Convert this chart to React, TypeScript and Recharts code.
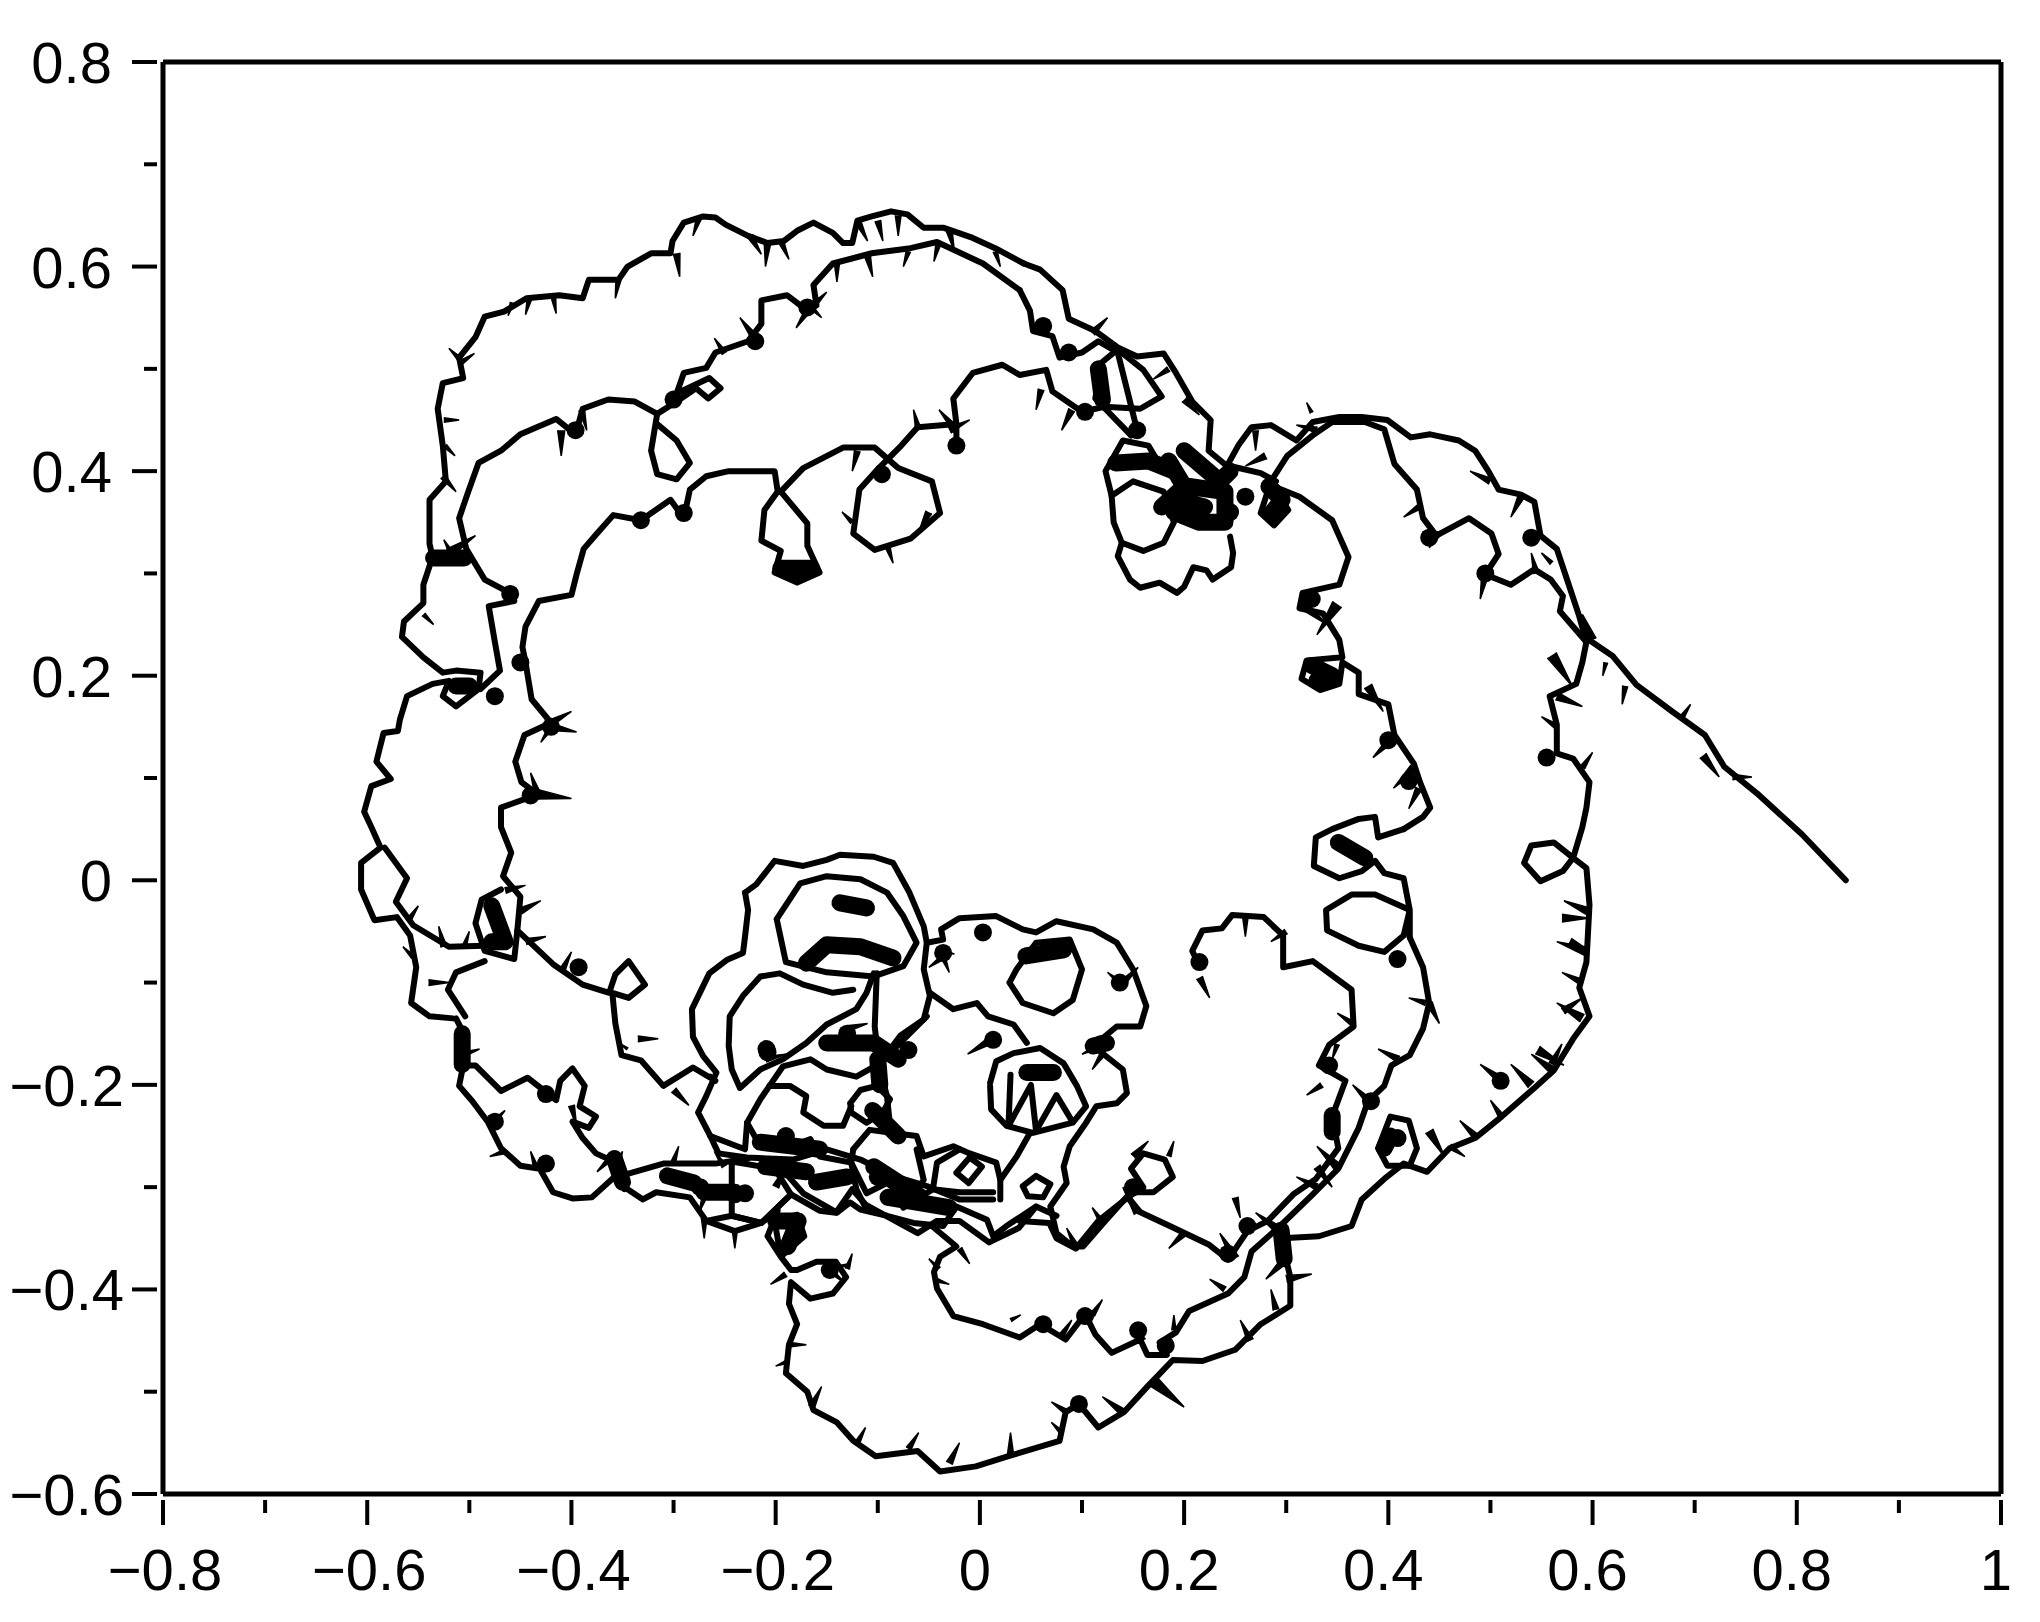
import { ScatterChart, Scatter, XAxis, YAxis, ReferenceLine } from "recharts";

type Pt = [number, number];

const xTicks = [-0.8, -0.7, -0.6, -0.5, -0.4, -0.3, -0.2, -0.1, 0, 0.1, 0.2, 0.3, 0.4, 0.5, 0.6, 0.7, 0.8, 0.9, 1];
const yTicks = [-0.6, -0.5, -0.4, -0.3, -0.2, -0.1, 0, 0.1, 0.2, 0.3, 0.4, 0.5, 0.6, 0.7, 0.8];

// trajectory, strand by strand
const leadIn: Pt[] = [[0.848, 0], [0.805, 0.045], [0.761, 0.085], [0.729, 0.111], [0.71, 0.142], [0.678, 0.165], [0.643, 0.191], [0.62, 0.219], [0.592, 0.238]];

const outerRight: Pt[] = [[0.594, 0.233], [0.587, 0.258], [0.575, 0.294], [0.565, 0.324], [0.549, 0.337], [0.543, 0.37], [0.53, 0.377], [0.508, 0.382], [0.498, 0.4], [0.485, 0.42], [0.469, 0.43], [0.441, 0.436], [0.422, 0.433], [0.399, 0.45], [0.374, 0.453], [0.352, 0.453], [0.326, 0.448], [0.31, 0.43], [0.285, 0.445], [0.266, 0.443], [0.253, 0.425], [0.242, 0.405], [0.224, 0.42], [0.226, 0.45], [0.208, 0.468], [0.192, 0.496], [0.18, 0.515], [0.154, 0.512], [0.135, 0.521], [0.113, 0.537], [0.087, 0.549], [0.081, 0.577], [0.059, 0.597], [0.043, 0.603]];

const outerTop: Pt[] = [[0.043, 0.603], [0.015, 0.618], [-0.007, 0.628], [-0.036, 0.638], [-0.055, 0.638], [-0.071, 0.651], [-0.087, 0.654], [-0.106, 0.649], [-0.12, 0.645], [-0.125, 0.623], [-0.134, 0.623], [-0.144, 0.633], [-0.163, 0.643], [-0.179, 0.635], [-0.192, 0.625], [-0.208, 0.623], [-0.227, 0.63], [-0.249, 0.641], [-0.259, 0.648], [-0.271, 0.649], [-0.29, 0.643], [-0.301, 0.625], [-0.303, 0.613], [-0.322, 0.613], [-0.345, 0.6], [-0.354, 0.587], [-0.383, 0.587], [-0.389, 0.569], [-0.412, 0.572], [-0.444, 0.569], [-0.466, 0.556], [-0.485, 0.551], [-0.494, 0.531], [-0.51, 0.511], [-0.506, 0.491], [-0.526, 0.486], [-0.531, 0.461], [-0.526, 0.425], [-0.523, 0.39], [-0.539, 0.372], [-0.539, 0.329], [-0.536, 0.316]];

const outerLeft: Pt[] = [[-0.536, 0.316], [-0.545, 0.289], [-0.545, 0.271], [-0.564, 0.253], [-0.566, 0.238], [-0.545, 0.218], [-0.526, 0.203], [-0.513, 0.205], [-0.489, 0.203], [-0.491, 0.187], [-0.513, 0.17], [-0.526, 0.18], [-0.52, 0.195], [-0.536, 0.192], [-0.561, 0.18], [-0.568, 0.157], [-0.57, 0.146], [-0.584, 0.144], [-0.591, 0.116], [-0.577, 0.099], [-0.596, 0.092], [-0.603, 0.067], [-0.596, 0.052], [-0.587, 0.032], [-0.606, 0.017], [-0.606, -0.009], [-0.593, -0.039], [-0.571, -0.036], [-0.558, -0.054], [-0.552, -0.085], [-0.557, -0.12], [-0.539, -0.133], [-0.516, -0.135]];

const outerBottom: Pt[] = [[-0.513, -0.135], [-0.503, -0.155], [-0.506, -0.181], [-0.51, -0.201], [-0.497, -0.216], [-0.482, -0.236], [-0.469, -0.262], [-0.45, -0.279], [-0.431, -0.282], [-0.418, -0.305], [-0.399, -0.311], [-0.38, -0.31], [-0.358, -0.29], [-0.345, -0.302], [-0.33, -0.312], [-0.317, -0.305], [-0.284, -0.31], [-0.268, -0.333], [-0.24, -0.343], [-0.214, -0.335], [-0.198, -0.323], [-0.208, -0.348], [-0.195, -0.368], [-0.172, -0.348], [-0.179, -0.327], [-0.201, -0.333], [-0.195, -0.368], [-0.185, -0.381], [-0.179, -0.381], [-0.16, -0.373], [-0.141, -0.373], [-0.131, -0.388], [-0.144, -0.404], [-0.166, -0.409], [-0.185, -0.393], [-0.187, -0.414], [-0.179, -0.434], [-0.187, -0.454], [-0.19, -0.482], [-0.169, -0.5], [-0.163, -0.518], [-0.14, -0.53], [-0.124, -0.548], [-0.102, -0.563], [-0.061, -0.558], [-0.039, -0.578], [-0.004, -0.573], [0.028, -0.563], [0.078, -0.548], [0.084, -0.52], [0.097, -0.512], [0.116, -0.535], [0.141, -0.52], [0.164, -0.495], [0.189, -0.469], [0.218, -0.47], [0.25, -0.459], [0.275, -0.434], [0.304, -0.416], [0.304, -0.388], [0.298, -0.363], [0.296, -0.345]];

const outerReturn: Pt[] = [[0.296, -0.35], [0.332, -0.348], [0.364, -0.338], [0.374, -0.312], [0.396, -0.292], [0.415, -0.277], [0.438, -0.285], [0.46, -0.262], [0.485, -0.252], [0.511, -0.231], [0.543, -0.203], [0.562, -0.186], [0.581, -0.155], [0.597, -0.133], [0.587, -0.105], [0.594, -0.08], [0.597, -0.024], [0.594, 0.012], [0.581, 0.022], [0.571, 0.009], [0.549, -0.001], [0.533, 0.017], [0.54, 0.034], [0.562, 0.037], [0.581, 0.022], [0.59, 0.052], [0.594, 0.071], [0.597, 0.096], [0.581, 0.119], [0.565, 0.124], [0.565, 0.152], [0.558, 0.18], [0.584, 0.192], [0.59, 0.213], [0.594, 0.233]];

const secondRight: Pt[] = [[0.594, 0.233], [0.568, 0.263], [0.571, 0.278], [0.559, 0.294], [0.543, 0.304], [0.52, 0.289], [0.495, 0.299], [0.508, 0.319], [0.501, 0.339], [0.479, 0.354], [0.447, 0.337], [0.434, 0.354], [0.428, 0.382], [0.406, 0.407], [0.396, 0.441], [0.377, 0.448], [0.345, 0.448], [0.326, 0.435], [0.301, 0.415], [0.285, 0.39], [0.275, 0.359], [0.288, 0.347], [0.302, 0.362], [0.288, 0.385], [0.313, 0.375], [0.345, 0.352], [0.361, 0.316], [0.352, 0.289], [0.316, 0.281], [0.313, 0.266], [0.336, 0.261], [0.352, 0.235], [0.355, 0.218], [0.32, 0.215], [0.315, 0.197], [0.333, 0.186], [0.352, 0.192], [0.355, 0.213], [0.371, 0.203], [0.371, 0.182], [0.4, 0.172], [0.406, 0.142], [0.425, 0.114], [0.431, 0.096], [0.441, 0.071], [0.434, 0.062], [0.415, 0.05]];

const rightRings: Pt[] = [[0.415, 0.05], [0.39, 0.042], [0.387, 0.062], [0.371, 0.06], [0.345, 0.05], [0.329, 0.042], [0.327, 0.014], [0.352, 0.002], [0.374, 0.009], [0.387, 0.019], [0.396, 0.007], [0.415, 0.002], [0.421, -0.029], [0.387, -0.014], [0.364, -0.014], [0.339, -0.029], [0.34, -0.049], [0.371, -0.064], [0.396, -0.07], [0.415, -0.054], [0.421, -0.029], [0.421, -0.056]];

const secondLowerRight: Pt[] = [[0.421, -0.056], [0.434, -0.085], [0.44, -0.12], [0.434, -0.145], [0.421, -0.171], [0.403, -0.181], [0.396, -0.201], [0.38, -0.216], [0.371, -0.242], [0.351, -0.282], [0.326, -0.307], [0.294, -0.338], [0.266, -0.363], [0.259, -0.388], [0.243, -0.404], [0.205, -0.421], [0.192, -0.442], [0.176, -0.452], [0.183, -0.464], [0.164, -0.464], [0.157, -0.449], [0.129, -0.462], [0.113, -0.444], [0.103, -0.424], [0.084, -0.449], [0.059, -0.434], [0.039, -0.447], [0.003, -0.434], [-0.026, -0.426], [-0.042, -0.399], [-0.045, -0.383], [-0.039, -0.368], [-0.023, -0.358], [-0.047, -0.338]];

const innerRight: Pt[] = [[0.215, -0.084], [0.208, -0.069], [0.218, -0.049], [0.237, -0.047], [0.247, -0.034], [0.278, -0.036], [0.297, -0.054], [0.297, -0.085], [0.326, -0.079], [0.364, -0.107], [0.366, -0.143], [0.342, -0.161], [0.332, -0.181], [0.358, -0.196], [0.345, -0.231], [0.351, -0.262], [0.329, -0.292], [0.307, -0.307], [0.282, -0.333], [0.262, -0.343], [0.243, -0.371], [0.224, -0.356], [0.186, -0.338], [0.154, -0.323], [0.145, -0.31], [0.116, -0.333], [0.094, -0.36], [0.075, -0.35], [0.068, -0.335], [0.039, -0.333]];

const smallKnot: Pt[] = [[0.145, -0.305], [0.17, -0.305], [0.189, -0.29], [0.181, -0.273], [0.16, -0.267], [0.148, -0.282], [0.16, -0.3], [0.145, -0.31]];
const knotRight: Pt[] = [[0.39, -0.262], [0.402, -0.231], [0.42, -0.235], [0.428, -0.262], [0.421, -0.279], [0.399, -0.279], [0.39, -0.262]];

const centreRightLobe: Pt[] = [[-0.052, -0.061], [-0.036, -0.058], [-0.038, -0.048], [-0.02, -0.037], [0.016, -0.035], [0.042, -0.048], [0.055, -0.051], [0.075, -0.04], [0.111, -0.048], [0.134, -0.061], [0.15, -0.087], [0.163, -0.123], [0.157, -0.143], [0.134, -0.143], [0.111, -0.162], [0.14, -0.185], [0.144, -0.208], [0.134, -0.218], [0.114, -0.221], [0.104, -0.237], [0.088, -0.26], [0.082, -0.28], [0.085, -0.296], [0.069, -0.319], [0.075, -0.345], [0.091, -0.358], [0.101, -0.358], [0.121, -0.335], [0.147, -0.306]];
const centreRightRing: Pt[] = [[0.029, -0.1], [0.042, -0.12], [0.072, -0.13], [0.091, -0.117], [0.1, -0.087], [0.088, -0.058], [0.055, -0.061], [0.036, -0.087], [0.029, -0.1]];
const midArc: Pt[] = [[-0.049, -0.11], [-0.026, -0.126], [-0.003, -0.12], [0.008, -0.133], [0.033, -0.141], [0.046, -0.159]];
const wheel: Pt[] = [[0.01, -0.198], [0.016, -0.177], [0.033, -0.169], [0.059, -0.164], [0.082, -0.179], [0.095, -0.201], [0.104, -0.221], [0.091, -0.237], [0.052, -0.247], [0.026, -0.24], [0.011, -0.224], [0.01, -0.201]];
const wheelSpokes: Pt[] = [[0.03, -0.19], [0.028, -0.24], [0.05, -0.2], [0.055, -0.245], [0.075, -0.21], [0.09, -0.235]];
const wheelDrop: Pt[] = [[0.049, -0.247], [0.036, -0.27], [0.02, -0.293], [0.02, -0.312]];
const tinyRing: Pt[] = [[0.042, -0.299], [0.055, -0.289], [0.069, -0.297], [0.062, -0.31], [0.047, -0.309], [0.042, -0.299]];

const topLobeA: Pt[] = [[-0.23, -0.012], [-0.219, -0.004], [-0.201, 0.019], [-0.173, 0.014], [-0.15, 0.02], [-0.137, 0.025], [-0.104, 0.023], [-0.085, 0.017], [-0.069, -0.012], [-0.055, -0.045], [-0.052, -0.061], [-0.055, -0.087], [-0.049, -0.113], [-0.055, -0.136], [-0.078, -0.152], [-0.098, -0.179]];
const topLobeB: Pt[] = [[-0.199, -0.038], [-0.176, -0.003], [-0.15, 0.004], [-0.117, 0.001], [-0.091, -0.012], [-0.075, -0.035], [-0.062, -0.061], [-0.075, -0.084], [-0.104, -0.094], [-0.15, -0.09], [-0.19, -0.08], [-0.199, -0.038]];
const centreLeft: Pt[] = [[-0.23, -0.012], [-0.227, -0.029], [-0.23, -0.055], [-0.232, -0.071], [-0.248, -0.078], [-0.265, -0.091], [-0.282, -0.126], [-0.281, -0.153], [-0.271, -0.172], [-0.258, -0.188], [-0.268, -0.211], [-0.276, -0.227], [-0.264, -0.25], [-0.256, -0.267], [-0.228, -0.271], [-0.183, -0.273], [-0.15, -0.263], [-0.117, -0.273], [-0.085, -0.289], [-0.052, -0.299], [-0.02, -0.312], [0.013, -0.312]];
const lobeMid: Pt[] = [[-0.124, -0.107], [-0.144, -0.11], [-0.173, -0.102], [-0.196, -0.091], [-0.215, -0.094], [-0.232, -0.113], [-0.245, -0.133], [-0.246, -0.162], [-0.243, -0.185], [-0.235, -0.203], [-0.215, -0.185], [-0.193, -0.175], [-0.17, -0.159], [-0.15, -0.141], [-0.121, -0.126], [-0.111, -0.11], [-0.104, -0.091]];
const spine: Pt[] = [[-0.101, -0.091], [-0.103, -0.143], [-0.098, -0.185], [-0.091, -0.211], [-0.088, -0.24]];
const underLobe: Pt[] = [[-0.206, -0.201], [-0.193, -0.182], [-0.166, -0.175], [-0.15, -0.185], [-0.121, -0.192], [-0.098, -0.179], [-0.078, -0.159], [-0.052, -0.133]];
const ringMid: Pt[] = [[-0.127, -0.218], [-0.117, -0.205], [-0.101, -0.201], [-0.088, -0.214], [-0.095, -0.227], [-0.111, -0.237], [-0.126, -0.227], [-0.127, -0.218]];
const lobeThree: Pt[] = [[-0.206, -0.201], [-0.186, -0.201], [-0.17, -0.211], [-0.173, -0.227], [-0.153, -0.24], [-0.134, -0.24], [-0.126, -0.221]];
const lobeLeft: Pt[] = [[-0.264, -0.25], [-0.23, -0.263], [-0.228, -0.237], [-0.215, -0.214], [-0.206, -0.201]];
const ringLower: Pt[] = [[-0.124, -0.263], [-0.108, -0.244], [-0.085, -0.247], [-0.062, -0.25], [-0.055, -0.27], [-0.026, -0.26], [-0.01, -0.267], [0.016, -0.276], [0.02, -0.293]];
const ringSmall: Pt[] = [[-0.023, -0.286], [-0.01, -0.271], [0.002, -0.28], [-0.011, -0.296], [-0.023, -0.286]];
const lowerChain: Pt[] = [[-0.268, -0.333], [-0.243, -0.328], [-0.214, -0.335], [-0.185, -0.307], [-0.157, -0.323], [-0.141, -0.325], [-0.125, -0.302], [-0.112, -0.317], [-0.061, -0.345], [-0.042, -0.333], [-0.02, -0.333], [0.009, -0.354], [0.038, -0.34], [0.055, -0.319], [0.075, -0.328]];
const chainUpper: Pt[] = [[-0.202, -0.283], [-0.188, -0.289], [-0.173, -0.306], [-0.14, -0.325], [-0.127, -0.315], [-0.117, -0.322], [-0.091, -0.328], [-0.065, -0.335], [-0.036, -0.338], [-0.023, -0.319], [0.007, -0.332], [0.013, -0.348], [0.026, -0.338], [0.055, -0.319]];
const lobeFour: Pt[] = [[-0.243, -0.275], [-0.243, -0.328], [-0.214, -0.335], [-0.185, -0.307], [-0.201, -0.282], [-0.243, -0.275]];
const ringColumn: Pt[] = [[-0.124, -0.263], [-0.126, -0.276], [-0.121, -0.302], [-0.111, -0.322]];
const denseA: Pt[] = [[-0.228, -0.237], [-0.215, -0.26], [-0.193, -0.263], [-0.166, -0.253], [-0.157, -0.27], [-0.126, -0.276], [-0.111, -0.306], [-0.091, -0.296], [-0.078, -0.306], [-0.065, -0.306], [-0.055, -0.293], [-0.062, -0.263]];
const denseB: Pt[] = [[-0.046, -0.302], [-0.042, -0.276], [-0.02, -0.263]];
const denseC: Pt[] = [[0.013, -0.305], [-0.02, -0.305], [-0.046, -0.302], [-0.075, -0.32]];

const secondTop: Pt[] = [[0.148, 0.435], [0.113, 0.471], [0.119, 0.506], [0.135, 0.519], [0.16, 0.499], [0.178, 0.473], [0.157, 0.461], [0.122, 0.463], [0.1, 0.458], [0.071, 0.478], [0.065, 0.499], [0.039, 0.494], [0.022, 0.504], [-0.007, 0.496], [-0.026, 0.471], [-0.023, 0.446], [-0.023, 0.425], [-0.023, 0.446], [-0.061, 0.443], [-0.077, 0.425], [-0.099, 0.403]];
const hangingLoop: Pt[] = [[-0.099, 0.403], [-0.118, 0.382], [-0.124, 0.339], [-0.103, 0.323], [-0.068, 0.334], [-0.039, 0.359], [-0.047, 0.39], [-0.08, 0.403], [-0.103, 0.423], [-0.134, 0.423], [-0.173, 0.403], [-0.195, 0.38], [-0.169, 0.349], [-0.169, 0.327], [-0.157, 0.301], [-0.179, 0.291], [-0.201, 0.301], [-0.195, 0.322], [-0.214, 0.332], [-0.211, 0.362], [-0.198, 0.38], [-0.201, 0.4], [-0.246, 0.4], [-0.268, 0.395], [-0.284, 0.382], [-0.29, 0.354], [-0.303, 0.372], [-0.332, 0.352], [-0.359, 0.357], [-0.375, 0.339], [-0.388, 0.324], [-0.395, 0.299], [-0.4, 0.279], [-0.432, 0.273], [-0.445, 0.248], [-0.448, 0.228], [-0.445, 0.213], [-0.439, 0.177], [-0.42, 0.154], [-0.446, 0.142], [-0.455, 0.116], [-0.449, 0.096], [-0.433, 0.084], [-0.469, 0.071], [-0.469, 0.052], [-0.459, 0.027], [-0.467, 0.004], [-0.45, -0.016], [-0.453, -0.049], [-0.418, -0.082], [-0.389, -0.102], [-0.363, -0.11], [-0.357, -0.092], [-0.344, -0.079], [-0.328, -0.102], [-0.344, -0.115], [-0.36, -0.11], [-0.357, -0.14], [-0.351, -0.171], [-0.332, -0.176], [-0.31, -0.201], [-0.281, -0.183], [-0.259, -0.196], [-0.264, -0.192]];
const leftInner: Pt[] = [[-0.469, -0.009], [-0.488, -0.019], [-0.494, -0.042], [-0.485, -0.069], [-0.456, -0.077], [-0.453, -0.049]];
const leftArc: Pt[] = [[-0.583, 0.032], [-0.561, 0.002], [-0.572, -0.021], [-0.555, -0.044], [-0.52, -0.065], [-0.485, -0.064]];
const leftStep: Pt[] = [[-0.485, -0.079], [-0.513, -0.09], [-0.521, -0.107], [-0.504, -0.133]];
const secondLower: Pt[] = [[-0.506, -0.181], [-0.494, -0.181], [-0.469, -0.206], [-0.443, -0.193], [-0.415, -0.215], [-0.411, -0.196], [-0.399, -0.184], [-0.387, -0.201], [-0.392, -0.221], [-0.376, -0.231], [-0.383, -0.242], [-0.399, -0.236], [-0.389, -0.252], [-0.376, -0.267], [-0.354, -0.277], [-0.348, -0.302]];
const lowerBand: Pt[] = [[-0.345, -0.287], [-0.31, -0.277], [-0.259, -0.277], [-0.227, -0.272]];

const innerTopRight: Pt[] = [[0.148, 0.435], [0.154, 0.44], [0.135, 0.516], [0.116, 0.527], [0.1, 0.516], [0.078, 0.511], [0.071, 0.532], [0.052, 0.537], [0.049, 0.557], [0.039, 0.577]];
const innerTop: Pt[] = [[0.039, 0.577], [0.003, 0.603], [-0.042, 0.624], [-0.068, 0.618], [-0.106, 0.613], [-0.144, 0.603], [-0.163, 0.582], [-0.16, 0.562], [-0.169, 0.557], [-0.189, 0.572], [-0.214, 0.567], [-0.214, 0.544], [-0.227, 0.527], [-0.259, 0.516], [-0.268, 0.501], [-0.29, 0.496], [-0.297, 0.476], [-0.265, 0.491], [-0.254, 0.481], [-0.266, 0.471], [-0.278, 0.481], [-0.297, 0.468], [-0.316, 0.456]];
const innerTopLeft: Pt[] = [[-0.316, 0.456], [-0.338, 0.468], [-0.364, 0.47], [-0.389, 0.461], [-0.396, 0.436], [-0.415, 0.451], [-0.45, 0.436], [-0.469, 0.42], [-0.491, 0.408], [-0.501, 0.38], [-0.51, 0.354], [-0.503, 0.324], [-0.497, 0.314], [-0.485, 0.294], [-0.466, 0.284], [-0.456, 0.273], [-0.481, 0.268], [-0.475, 0.233], [-0.47, 0.205], [-0.489, 0.187]];
const ringTopLeft: Pt[] = [[-0.316, 0.456], [-0.322, 0.42], [-0.316, 0.397], [-0.297, 0.392], [-0.284, 0.408], [-0.297, 0.43], [-0.316, 0.446]];

const clusterBottom: Pt[] = [[0.129, 0.376], [0.131, 0.35], [0.139, 0.33], [0.135, 0.317], [0.147, 0.294], [0.157, 0.286], [0.176, 0.291], [0.193, 0.281], [0.2, 0.287], [0.209, 0.306], [0.222, 0.303], [0.228, 0.294], [0.246, 0.306], [0.248, 0.32], [0.245, 0.336]];
const clusterInner: Pt[] = [[0.139, 0.33], [0.16, 0.322], [0.18, 0.33], [0.19, 0.35], [0.18, 0.38], [0.15, 0.39], [0.129, 0.376], [0.123, 0.4], [0.14, 0.43], [0.165, 0.425], [0.18, 0.4]];
const clusterLink: Pt[] = [[0.245, 0.405], [0.275, 0.398], [0.29, 0.39]];

// dense stretches, drawn with a heavy stroke
const blobA: Pt[] = [[0.19, 0.36], [0.215, 0.35], [0.24, 0.35], [0.24, 0.38], [0.205, 0.385], [0.2, 0.37], [0.22, 0.365]];
const blobB: Pt[] = [[0.2, 0.42], [0.235, 0.39], [0.245, 0.4]];
const blobC: Pt[] = [[0.133, 0.408], [0.165, 0.41], [0.19, 0.4]];
const blobD: Pt[] = [[0.283, 0.385], [0.296, 0.372], [0.285, 0.358]];
const blobE: Pt[] = [[-0.17, -0.081], [-0.15, -0.063], [-0.117, -0.065], [-0.085, -0.076]];
const blobF: Pt[] = [[-0.137, -0.022], [-0.111, -0.027]];
const blobG: Pt[] = [[-0.15, -0.159], [-0.104, -0.159], [-0.08, -0.175]];
const blobH: Pt[] = [[0.045, -0.074], [0.082, -0.068]];
const blobI: Pt[] = [[0.046, -0.188], [0.072, -0.188]];
const blobJ: Pt[] = [[0.111, -0.162], [0.124, -0.159]];
const blobK: Pt[] = [[-0.215, -0.256], [-0.157, -0.263]];
const blobL: Pt[] = [[-0.104, -0.28], [-0.059, -0.309]];
const blobM: Pt[] = [[-0.306, -0.289], [-0.28, -0.296]];
const blobN: Pt[] = [[-0.2, -0.333], [-0.178, -0.333], [-0.188, -0.358]];
const blobO: Pt[] = [[-0.478, -0.025], [-0.465, -0.06], [-0.478, -0.06]];
const blobP: Pt[] = [[-0.195, 0.305], [-0.165, 0.305]];
const blobQ: Pt[] = [[0.351, 0.037], [0.377, 0.022]];
const blobR: Pt[] = [[0.325, 0.21], [0.345, 0.2], [0.33, 0.195]];
const blobU: Pt[] = [[-0.535, 0.315], [-0.505, 0.315]];
const blobV: Pt[] = [[0.12, 0.47], [0.116, 0.5]];
const blobW: Pt[] = [[0.396, -0.262], [0.402, -0.25]];
const blobX: Pt[] = [[0.298, -0.37], [0.295, -0.342]];
const blobY: Pt[] = [[-0.358, -0.272], [-0.35, -0.295]];
const blobZ: Pt[] = [[-0.507, -0.15], [-0.507, -0.18]];
const blobAA: Pt[] = [[-0.513, 0.19], [-0.5, 0.19]];
const blobAB: Pt[] = [[-0.27, -0.305], [-0.24, -0.305]];
const blobAC: Pt[] = [[0.345, -0.246], [0.345, -0.23]];
const blobAD: Pt[] = [[-0.098, -0.2], [-0.1, -0.175]];
const blobAE: Pt[] = [[-0.21, -0.28], [-0.17, -0.285]];
const blobAF: Pt[] = [[-0.16, -0.295], [-0.13, -0.29]];
const blobAG: Pt[] = [[-0.09, -0.31], [-0.03, -0.32]];
const blobAH: Pt[] = [[-0.105, -0.225], [-0.08, -0.25]];
const blobAI: Pt[] = [[0.185, 0.41], [0.2, 0.385], [0.178, 0.365]];

// single dense knots
const knots: Pt[] = [[-0.46, 0.28], [-0.45, 0.213], [-0.475, 0.18], [-0.42, 0.15], [-0.44, 0.083], [-0.396, 0.44], [-0.332, 0.352], [-0.29, 0.359], [-0.096, 0.397], [-0.023, 0.425], [-0.169, 0.56], [-0.22, 0.527], [0.062, 0.542], [0.087, 0.516], [0.103, 0.458], [0.154, 0.44], [0.325, 0.275], [0.555, 0.12], [0.495, 0.3], [0.54, 0.335], [0.44, 0.335], [0.4, 0.137], [0.42, 0.097], [0.119, -0.16], [0.51, -0.196], [0.409, -0.252], [0.243, -0.365], [0.215, -0.08], [0.409, -0.077], [0.342, -0.181], [0.383, -0.216], [0.262, -0.338], [0.103, -0.426], [0.155, -0.44], [0.182, -0.455], [0.097, -0.512], [0.15, -0.3], [0.062, -0.434], [-0.24, -0.307], [-0.393, -0.085], [-0.425, -0.209], [-0.475, -0.236], [-0.425, -0.277], [-0.208, -0.168], [-0.147, -0.381], [-0.274, -0.3], [-0.23, -0.306], [-0.209, -0.165], [-0.07, -0.166], [0.137, -0.1], [0.003, -0.051], [-0.036, -0.071], [0.013, -0.156], [-0.19, -0.25], [-0.13, -0.15], [-0.1, -0.29], [0.245, 0.36], [0.26, 0.375], [-0.18, 0.3], [-0.3, 0.47]];

// spikes as base x, base y, tip x, tip y
const spikes: [number, number, number, number][] = [
  [-0.208, 0.623, -0.21, 0.6], [-0.195, 0.625, -0.187, 0.607], [-0.225, 0.63, -0.214, 0.612], [-0.297, 0.613, -0.294, 0.59], [-0.275, 0.648, -0.281, 0.63], [-0.354, 0.587, -0.357, 0.569], [-0.418, 0.572, -0.415, 0.554], [-0.441, 0.569, -0.445, 0.553], [-0.458, 0.565, -0.462, 0.552], [-0.525, 0.45, -0.51, 0.45], [-0.524, 0.425, -0.514, 0.415], [-0.526, 0.395, -0.513, 0.38], [-0.52, 0.32, -0.494, 0.337], [-0.515, 0.315, -0.525, 0.333], [-0.545, 0.26, -0.535, 0.25], [-0.51, 0.51, -0.52, 0.52], [-0.51, 0.505, -0.495, 0.515],
  [-0.42, 0.154, -0.4, 0.165], [-0.42, 0.15, -0.395, 0.145], [-0.42, 0.15, -0.43, 0.135], [-0.433, 0.084, -0.4, 0.08], [-0.433, 0.084, -0.44, 0.105], [-0.465, -0.01, -0.445, -0.005], [-0.45, -0.03, -0.43, -0.02], [-0.445, -0.06, -0.425, -0.055], [-0.41, -0.09, -0.4, -0.07], [-0.525, -0.065, -0.53, -0.045], [-0.505, -0.065, -0.5, -0.05], [-0.56, -0.04, -0.55, -0.025], [-0.555, -0.075, -0.565, -0.065], [-0.54, -0.1, -0.52, -0.1],
  [-0.505, -0.17, -0.49, -0.165], [-0.48, -0.24, -0.465, -0.225], [-0.465, -0.265, -0.48, -0.27], [-0.435, -0.28, -0.44, -0.265], [-0.4, -0.22, -0.395, -0.24], [-0.335, -0.155, -0.315, -0.155], [-0.345, -0.165, -0.352, -0.16], [-0.3, -0.205, -0.285, -0.22], [-0.27, -0.33, -0.27, -0.35], [-0.24, -0.343, -0.24, -0.36], [-0.187, -0.454, -0.17, -0.454], [-0.187, -0.47, -0.2, -0.475], [-0.165, -0.515, -0.155, -0.495], [-0.12, -0.55, -0.112, -0.535], [-0.07, -0.556, -0.06, -0.54], [-0.03, -0.57, -0.02, -0.55], [0.03, -0.563, 0.03, -0.54], [0.08, -0.54, 0.07, -0.53], [0.085, -0.52, 0.07, -0.51], [0.14, -0.52, 0.12, -0.505], [0.17, -0.49, 0.2, -0.515], [0.265, -0.45, 0.255, -0.43], [0.29, -0.42, 0.285, -0.4], [0.3, -0.39, 0.325, -0.385], [0.3, -0.37, 0.28, -0.39],
  [0.46, -0.26, 0.475, -0.27], [0.485, -0.25, 0.47, -0.235], [0.51, -0.23, 0.5, -0.215], [0.54, -0.2, 0.52, -0.18], [0.56, -0.185, 0.54, -0.17], [0.56, -0.18, 0.57, -0.16], [0.59, -0.135, 0.565, -0.12], [0.59, -0.1, 0.57, -0.09], [0.595, -0.07, 0.565, -0.06], [0.595, -0.03, 0.572, -0.02], [0.59, 0.11, 0.6, 0.125], [0.565, 0.15, 0.55, 0.16], [0.565, 0.18, 0.59, 0.17], [0.56, 0.22, 0.58, 0.19],
  [0.56, 0.31, 0.55, 0.32], [0.53, 0.375, 0.52, 0.355], [0.5, 0.39, 0.48, 0.4], [0.545, 0.3, 0.54, 0.32], [0.495, 0.3, 0.49, 0.275], [0.45, 0.34, 0.44, 0.325], [0.43, 0.365, 0.415, 0.355], [0.33, 0.44, 0.31, 0.445], [0.325, 0.457, 0.32, 0.467], [0.27, 0.44, 0.27, 0.42], [0.28, 0.415, 0.26, 0.405],
  [0.35, 0.27, 0.33, 0.24], [0.315, 0.27, 0.34, 0.25], [0.405, 0.14, 0.385, 0.12], [0.425, 0.11, 0.405, 0.09], [0.43, 0.09, 0.42, 0.07], [0.38, 0.19, 0.395, 0.165],
  [0.632, 0.19, 0.629, 0.172], [0.686, 0.157, 0.696, 0.172], [0.708, 0.122, 0.724, 0.101], [0.737, 0.101, 0.756, 0.101], [0.613, 0.213, 0.61, 0.2], [0.6, 0.235, 0.59, 0.26],
  [0.437, -0.12, 0.42, -0.115], [0.44, -0.12, 0.45, -0.14], [0.41, -0.175, 0.39, -0.165], [0.38, -0.215, 0.365, -0.2], [0.35, -0.28, 0.33, -0.26], [0.33, -0.3, 0.31, -0.29], [0.29, -0.34, 0.27, -0.325], [0.25, -0.37, 0.235, -0.345], [0.2, -0.345, 0.185, -0.36], [0.155, -0.325, 0.14, -0.3], [0.12, -0.335, 0.11, -0.32], [0.095, -0.36, 0.085, -0.34], [0.24, -0.4, 0.225, -0.39], [0.19, -0.44, 0.19, -0.425], [0.16, -0.45, 0.15, -0.435], [0.11, -0.425, 0.12, -0.41], [0.08, -0.445, 0.09, -0.43], [0.03, -0.43, 0.04, -0.425], [0.15, -0.27, 0.165, -0.255], [0.185, -0.27, 0.19, -0.255],
  [0.33, -0.28, 0.345, -0.3], [0.365, -0.14, 0.35, -0.13], [0.35, -0.16, 0.345, -0.175], [0.335, -0.2, 0.32, -0.21], [0.3, -0.05, 0.285, -0.06], [0.26, -0.035, 0.26, -0.055], [0.215, -0.095, 0.225, -0.115],
  [-0.12, 0.645, -0.11, 0.625], [-0.1, 0.645, -0.095, 0.625], [-0.08, 0.65, -0.08, 0.63], [-0.14, 0.605, -0.14, 0.585], [-0.11, 0.61, -0.105, 0.59], [-0.165, 0.56, -0.155, 0.55], [-0.22, 0.53, -0.235, 0.55], [-0.25, 0.515, -0.26, 0.53], [-0.39, 0.46, -0.385, 0.44], [-0.41, 0.44, -0.41, 0.415],
  [-0.06, 0.44, -0.065, 0.46], [-0.03, 0.44, -0.01, 0.45], [-0.023, 0.44, -0.04, 0.46], [0.06, 0.48, 0.055, 0.46], [0.09, 0.46, 0.08, 0.44], [-0.12, 0.42, -0.125, 0.4], [-0.09, 0.325, -0.085, 0.31], [-0.05, 0.36, -0.06, 0.34], [-0.125, 0.35, -0.135, 0.36],
  [0.57, -0.037, 0.597, -0.037], [0.578, -0.059, 0.594, -0.067], [0.571, -0.128, 0.59, -0.115], [0.546, -0.166, 0.572, -0.181], [0.51, -0.195, 0.49, -0.18], [0.44, -0.245, 0.455, -0.27], [0.015, 0.615, 0.02, 0.6], [-0.03, 0.635, -0.025, 0.615], [-0.04, 0.625, -0.045, 0.605], [-0.07, 0.615, -0.075, 0.6], [0.2, 0.47, 0.215, 0.455], [0.185, 0.5, 0.17, 0.49], [0.11, 0.535, 0.125, 0.55], [-0.17, 0.555, -0.18, 0.54], [-0.16, 0.565, -0.15, 0.575],
  [-0.02, -0.36, -0.01, -0.375], [-0.04, -0.38, -0.05, -0.37], [-0.045, -0.39, -0.03, -0.395], [0.25, -0.31, 0.255, -0.33], [-0.21, -0.175, -0.19, -0.17], [-0.13, -0.145, -0.11, -0.14], [0.013, -0.155, -0.012, -0.17], [0.137, -0.1, 0.125, -0.09], [0.14, -0.1, 0.155, -0.085], [0.12, -0.16, 0.1, -0.17], [0.12, -0.17, 0.11, -0.185], [-0.036, -0.07, -0.025, -0.072], [-0.036, -0.075, -0.03, -0.09], [-0.036, -0.075, -0.05, -0.085],
  [-0.147, -0.381, -0.128, -0.375], [-0.147, -0.381, -0.133, -0.393], [-0.19, -0.385, -0.205, -0.395], [-0.2, -0.3, -0.19, -0.28], [-0.355, -0.28, -0.35, -0.265], [-0.36, -0.27, -0.375, -0.285], [-0.13, -0.38, -0.125, -0.365], [-0.3, -0.275, -0.295, -0.26], [-0.25, -0.28, -0.26, -0.265], [-0.27, -0.31, -0.275, -0.325],
];

const strands: Pt[][] = [leadIn, outerRight, outerTop, outerLeft, outerBottom, outerReturn, secondRight, rightRings, secondLowerRight, innerRight, smallKnot, knotRight, centreRightLobe, centreRightRing, midArc, wheel, wheelSpokes, wheelDrop, tinyRing, topLobeA, topLobeB, centreLeft, lobeMid, spine, underLobe, ringMid, lobeThree, lobeLeft, ringLower, ringSmall, lowerChain, chainUpper, lobeFour, ringColumn, denseA, denseB, denseC, secondTop, hangingLoop, leftInner, leftArc, leftStep, secondLower, lowerBand, innerTopRight, innerTop, innerTopLeft, ringTopLeft, clusterBottom, clusterInner, clusterLink];
const blobs: Pt[][] = [blobA, blobB, blobC, blobD, blobE, blobF, blobG, blobH, blobI, blobJ, blobK, blobL, blobM, blobN, blobO, blobP, blobQ, blobR, blobU, blobV, blobW, blobX, blobY, blobZ, blobAA, blobAB, blobAC, blobAD, blobAE, blobAF, blobAG, blobAH, blobAI];

const toPoints = (arc: Pt[]) => arc.map(([x, y]) => ({ x, y }));
const noDot = () => <g />;
const knotDot = (p: any) => <circle cx={p.cx} cy={p.cy} r={9} fill="#000" />;

// a spike narrows from its base on the curve to the tip
function spikePoints(s: number[]) {
  const dx = s[2] - s[0];
  const dy = s[3] - s[1];
  return [
    { x: s[0] - dy * 0.14, y: s[1] + dx * 0.14 },
    { x: s[2], y: s[3] },
    { x: s[0] + dy * 0.14, y: s[1] - dx * 0.14 },
  ];
}

function tickText(v: number) {
  if (Math.abs(v) < 1e-9) return "0";
  if (v === 1) return "1";
  return v.toFixed(1).replace("-", "\u2212");
}
const isMajor = (v: number) => Math.round(v * 10) % 2 === 0 || v === 1;

function XTick({ x, y, payload }: any) {
  const major = isMajor(payload.value);
  return (
    <g>
      <line x1={x} x2={x} y1={y} y2={y + (major ? 25 : 13)} stroke="#000" strokeWidth={4} />
      {major && (
        <text x={x + (payload.value < 0 ? 2 : -5)} y={y + 90} textAnchor="middle" fontFamily="Liberation Sans" fontSize={58} fill="#000">
          {tickText(payload.value)}
        </text>
      )}
    </g>
  );
}

function YTick({ x, y, payload }: any) {
  const major = isMajor(payload.value);
  return (
    <g>
      <line x1={x - (major ? 25 : 13)} x2={x} y1={y} y2={y} stroke="#000" strokeWidth={4} />
      {major && (
        <text x={x + (payload.value < 0 ? -33 : -45)} y={y + 21} textAnchor="end" fontFamily="Liberation Sans" fontSize={58} fill="#000">
          {tickText(payload.value)}
        </text>
      )}
    </g>
  );
}

export default function App() {
  return (
    <div style={{ position: "absolute", left: 0, top: 0, background: "#fff" }}>
      <ScatterChart width={2040} height={1622} margin={{ top: 62, right: 39, bottom: 0, left: 0 }}>
        <XAxis type="number" dataKey="x" domain={[-0.8, 1]} ticks={xTicks} interval={0} height={128} tickLine={false} tickMargin={0} tick={XTick} axisLine={{ stroke: "#000", strokeWidth: 5 }} />
        <YAxis type="number" dataKey="y" domain={[-0.6, 0.8]} ticks={yTicks} interval={0} width={163} tickLine={false} tickMargin={0} tick={YTick} axisLine={{ stroke: "#000", strokeWidth: 5 }} />
        <ReferenceLine y={0.8} stroke="#000" strokeWidth={5} />
        <ReferenceLine x={1} stroke="#000" strokeWidth={5} />
        {spikes.map((s, i) => (
          <Scatter key={"s" + i} data={spikePoints(s)} line={{ stroke: "#000", strokeWidth: 1.5, fill: "#000" }} shape={noDot} isAnimationActive={false} />
        ))}
        {strands.map((arc, i) => (
          <Scatter key={"a" + i} data={toPoints(arc)} line={{ stroke: "#000", strokeWidth: 6, strokeLinejoin: "round", strokeLinecap: "round" }} shape={noDot} isAnimationActive={false} />
        ))}
        {blobs.map((arc, i) => (
          <Scatter key={"b" + i} data={toPoints(arc)} line={{ stroke: "#000", strokeWidth: 17, strokeLinejoin: "round", strokeLinecap: "round" }} shape={noDot} isAnimationActive={false} />
        ))}
        <Scatter data={toPoints(knots)} shape={knotDot} isAnimationActive={false} />
      </ScatterChart>
    </div>
  );
}
